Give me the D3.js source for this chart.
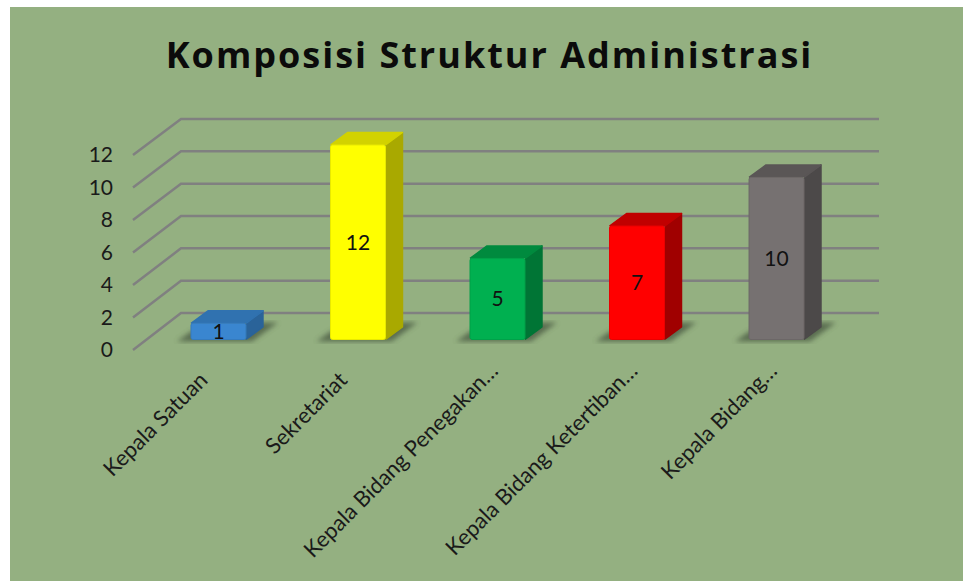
<!DOCTYPE html>
<html>
<head>
<meta charset="utf-8">
<script src="https://cdn.jsdelivr.net/npm/d3@7"></script>
<style>
  html, body { margin: 0; padding: 0; background: #fff; }
  svg { display: block; }
</style>
</head>
<body>
<div id="chart"></div>
<script>
// Chart values
const categories = ["Kepala Satuan", "Sekretariat", "Kepala Bidang Penegakan…", "Kepala Bidang Ketertiban…", "Kepala Bidang…"];
const values = [1, 12, 5, 7, 10];
const yTicks = [0, 2, 4, 6, 8, 10, 12];
const chartTitle = "Komposisi Struktur Administrasi";

// front / side / top colours for each bar
const frontColors = ["#3a86d0", "#ffff00", "#00b050", "#ff0000", "#767171"];
const sideColors = ["#2a6399", "#a9a900", "#007535", "#a00000", "#4c4949"];
const topColors = ["#3072b0", "#d2d200", "#008a3e", "#c00000", "#5a5656"];

const width = 963, height = 581;
const labelFont = "Lato, 'Open Sans', sans-serif";

const svg = d3.select("#chart").append("svg")
  .attr("width", width)
  .attr("height", height);

const defs = svg.append("defs");
defs.append("filter").attr("id", "soft").append("feGaussianBlur").attr("stdDeviation", 2.5);

// Plot background
svg.append("rect")
  .attr("x", 10).attr("y", 7)
  .attr("width", width - 10).attr("height", height - 7)
  .attr("fill", "#94b081");

// Title
svg.append("text")
  .attr("x", 489.5).attr("y", 68)
  .attr("text-anchor", "middle")
  .style("font-family", "'Open Sans', sans-serif")
  .style("font-weight", 700)
  .style("font-size", "36px")
  .style("letter-spacing", "2px")
  .attr("fill", "#0b0b0b")
  .text(chartTitle);

// Scales: the back wall, the front edge of the floor and the bar fronts
const yBack = d3.scaleLinear().domain([0, 12]).range([313, 119]);
const yFront = d3.scaleLinear().domain([0, 12]).range([350, 155]);
const yBar = d3.scaleLinear().domain([0, 12]).range([339.5, 145]);
const x = d3.scaleBand().domain(categories).range([191, 804]).paddingInner(0.606).paddingOuter(0);

const backLeft = 181, backRight = 879, frontLeft = 133;
const depthX = 17, depthY = 12.5;

// Gridlines
const grid = svg.append("g").attr("fill", "none").attr("stroke", "#808080").attr("stroke-width", 2.5);
yTicks.forEach(t => {
  grid.append("path")
    .attr("d", d3.line()([[frontLeft, yFront(t)], [backLeft, yBack(t)], [backRight, yBack(t)]]));
});

// Y axis labels
svg.append("g").selectAll("text")
  .data(yTicks)
  .enter()
  .append("text")
  .attr("x", 113)
  .attr("y", d => yFront(d))
  .attr("dy", "0.35em")
  .attr("text-anchor", "end")
  .style("font-family", labelFont)
  .style("font-size", "21px")
  .attr("fill", "#1a1a1a")
  .text(d => d);

// Bars
const bars = svg.append("g");
categories.forEach((c, i) => {
  const x0 = x(c), x1 = x0 + x.bandwidth();
  const y0 = yBar(0), y1 = yBar(values[i]);
  const g = bars.append("g");

  // floor shadow
  g.append("path")
    .attr("d", d3.line()([[x0 - 14, y0 + 2], [x1 + 6, y0 + 2], [x1 + 32, y0 - 17], [x1, y0 - 17], [x0, y0 - 8]]))
    .attr("fill", "#47573f")
    .attr("opacity", 0.75)
    .attr("filter", "url(#soft)");

  // side face
  g.append("path")
    .attr("d", d3.line()([[x1, y0], [x1 + depthX, y0 - depthY], [x1 + depthX, y1 - depthY], [x1, y1]]))
    .attr("fill", sideColors[i])
    .attr("stroke", sideColors[i])
    .attr("stroke-width", 1.5)
    .attr("stroke-linejoin", "round");

  // top face
  g.append("path")
    .attr("d", d3.line()([[x0, y1], [x0 + depthX, y1 - depthY], [x1 + depthX, y1 - depthY], [x1, y1]]))
    .attr("fill", topColors[i])
    .attr("stroke", topColors[i])
    .attr("stroke-width", 1.5)
    .attr("stroke-linejoin", "round");

  // front face
  g.append("rect")
    .attr("x", x0).attr("y", y1)
    .attr("width", x1 - x0).attr("height", y0 - y1)
    .attr("rx", 2)
    .attr("fill", frontColors[i])
    .attr("stroke", d3.color(frontColors[i]).darker(0.25))
    .attr("stroke-width", 1);

  // value label
  g.append("text")
    .attr("x", (x0 + x1) / 2)
    .attr("y", (y0 + y1) / 2)
    .attr("dy", "0.35em")
    .attr("text-anchor", "middle")
    .style("font-family", labelFont)
    .style("font-size", "21px")
    .attr("fill", "#111")
    .text(values[i]);

  // category label, the shortened ones sit further up and right
  const cut = c.endsWith("…");
  const lx = x0 + (cut ? 24 : 12.5), ly = cut ? 367 : 376;
  svg.append("text")
    .attr("transform", `translate(${lx},${ly}) rotate(-45)`)
    .attr("text-anchor", "end")
    .attr("dy", "0.35em")
    .style("font-family", labelFont)
    .style("font-size", "22px")
    .attr("fill", "#1a1a1a")
    .text(c);
});
</script>
</body>
</html>
